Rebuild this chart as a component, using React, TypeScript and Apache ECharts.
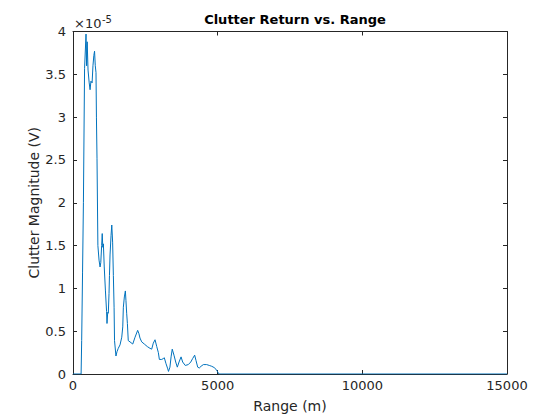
import React, { useEffect, useRef } from "react";
import * as echarts from "echarts";

// Range in metres
const ranges: number[] = [
  0, 280, 300, 330, 360, 400, 450, 470, 490, 520, 560, 590, 620, 660, 690, 720, 745, 770, 795, 810,
  830, 860, 900, 935, 960, 990, 1010, 1030, 1050, 1080, 1120, 1160, 1175, 1200, 1220, 1245, 1260, 1280,
  1315, 1340, 1370, 1395, 1420, 1435, 1485, 1520, 1565, 1625, 1685, 1720, 1740, 1775, 1810, 1830, 1855,
  1880, 1910, 1970, 2065, 2145, 2235, 2280, 2315, 2375, 2465, 2570, 2660, 2720, 2775, 2835, 2895, 2950,
  2985, 3065, 3120, 3155, 3215, 3275, 3300, 3350, 3390, 3430, 3490, 3550, 3605, 3665, 3735, 3790, 3880,
  3985, 4070, 4135, 4205, 4250, 4310, 4365, 4425, 4505, 4620, 4710, 4795, 4875, 4940, 4985, 5020, 5050,
  15000,
];

// Clutter magnitude in units of 1e-5 V
const magnitudes: number[] = [
  0, 0, 0.39, 1.19, 2.0, 3.57, 3.97, 3.6, 3.88, 3.55, 3.4, 3.32, 3.42, 3.4, 3.6, 3.72, 3.77, 3.6, 3.52, 3.0,
  2.52, 1.5, 1.33, 1.25, 1.3, 1.5, 1.64, 1.48, 1.52, 1.25, 0.98, 0.73, 0.59, 0.72, 0.71, 0.94, 1.15, 1.39,
  1.62, 1.74, 1.54, 1.15, 0.78, 0.39, 0.21, 0.26, 0.3, 0.34, 0.43, 0.55, 0.78, 0.9, 0.97, 0.86, 0.71,
  0.59, 0.39, 0.375, 0.35, 0.43, 0.51, 0.47, 0.42, 0.375, 0.35, 0.32, 0.3, 0.29, 0.36, 0.4, 0.32, 0.25,
  0.17, 0.17, 0.18, 0.19, 0.12, 0.06, 0.03, 0.08, 0.2, 0.29, 0.22, 0.14, 0.08, 0.14, 0.2, 0.14, 0.1,
  0.11, 0.14, 0.18, 0.22, 0.16, 0.08, 0.07, 0.09, 0.11, 0.11, 0.1, 0.09, 0.076, 0.056, 0.033, 0.013, 0,
  0,
];

const SCALE = 1e-5;
const xTicks = [0, 5000, 10000, 15000];
const yTickLabels = ["0", "0.5", "1", "1.5", "2", "2.5", "3", "3.5", "4"];

const FONT = "DejaVu Sans";
const AX = "#262626";

export default function App() {
  const ref = useRef<HTMLDivElement>(null);
  useEffect(() => {
    if (!ref.current) return;
    const chart = echarts.init(ref.current, null, { renderer: "svg" });
    const data = ranges.map((r, i) => [r, magnitudes[i] * SCALE]);
    const grid = { left: 73, top: 31.5, right: 53, bottom: 46 };
    const axisCommon = {
      axisLine: { show: true, onZero: false, lineStyle: { color: AX, width: 1 } },
      axisTick: { show: true, inside: true, length: 4, lineStyle: { color: AX } },
      splitLine: { show: false },
    };
    chart.setOption({
      animation: false,
      backgroundColor: "#ffffff",
      title: {
        text: "Clutter Return vs. Range",
        left: 290,
        textAlign: "center",
        top: 8,
        textStyle: { fontFamily: FONT, fontSize: 13, fontWeight: "bold", color: "#000" },
      },
      grid,
      xAxis: [
        {
          type: "value",
          min: 0,
          max: 15000,
          interval: 5000,
          position: "bottom",
          name: "Range (m)",
          nameLocation: "middle",
          nameGap: 25,
          nameMoveOverlap: false,
          nameTextStyle: { fontFamily: FONT, fontSize: 14, color: AX },
          axisLabel: {
            fontFamily: FONT,
            fontSize: 13,
            color: AX,
            margin: 5,
            formatter: (v: number) => (xTicks.includes(v) ? String(v) : ""),
          },
          ...axisCommon,
        },
        {
          type: "value",
          min: 0,
          max: 15000,
          interval: 5000,
          position: "top",
          axisLabel: { show: false },
          ...axisCommon,
        },
      ],
      yAxis: [
        {
          type: "value",
          min: 0,
          max: 4 * SCALE,
          interval: 0.5 * SCALE,
          position: "left",
          name: "Clutter Magnitude (V)",
          nameLocation: "middle",
          nameGap: 32,
          nameMoveOverlap: false,
          nameTextStyle: { fontFamily: FONT, fontSize: 14, color: AX },
          axisLabel: {
            fontFamily: FONT,
            fontSize: 13,
            color: AX,
            margin: 7,
            formatter: (v: number) => yTickLabels[Math.round(v / (0.5 * SCALE))] ?? "",
          },
          ...axisCommon,
        },
        {
          type: "value",
          min: 0,
          max: 4 * SCALE,
          interval: 0.5 * SCALE,
          position: "right",
          axisLabel: { show: false },
          ...axisCommon,
        },
      ],
      graphic: [
        {
          type: "text",
          x: 74,
          y: 17,
          style: {
            text: "×10",
            font: `13px "${FONT}"`,
            fill: AX,
          },
        },
        {
          type: "text",
          x: 102,
          y: 14,
          style: {
            text: "-5",
            font: `10px "${FONT}"`,
            fill: AX,
          },
        },
      ],
      series: [
        {
          type: "line",
          data,
          xAxisIndex: 0,
          yAxisIndex: 0,
          showSymbol: false,
          symbol: "none",
          lineStyle: { color: "#0072BD", width: 1 },
          clip: true,
        },
      ],
    });
    return () => chart.dispose();
  }, []);
  return (
    <div
      ref={ref}
      style={{ position: "fixed", left: 0, top: 0, width: 560, height: 420, background: "#fff" }}
    />
  );
}
